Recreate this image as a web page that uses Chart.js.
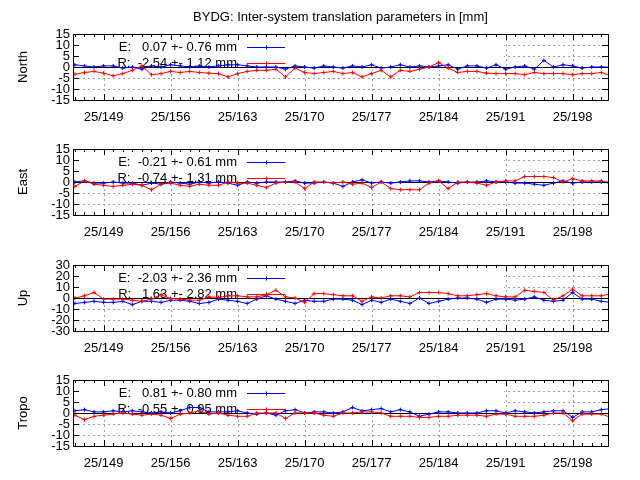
<!DOCTYPE html>
<html><head><meta charset="utf-8">
<script src="https://cdn.jsdelivr.net/npm/chart.js@4"></script>
<style>html,body{margin:0;padding:0;background:#fff}#w{position:relative;width:640px;height:480px}canvas{position:absolute;left:0;top:0}</style>
</head><body><div id="w"></div>
<script>
const days = [];
for (let d = 146; d <= 202; d++) days.push(d);
const tickDays = [149,156,163,170,177,184,191,198];
const tickLabels = ["25/149","25/156","25/163","25/170","25/177","25/184","25/191","25/198"];
const panelNames = ["North","East","Up","Tropo"];
const legendE = ["E:   0.07 +- 0.76 mm","E:  -0.21 +- 0.61 mm","E:  -2.03 +- 2.36 mm","E:   0.81 +- 0.80 mm"];
const legendR = ["R:  -2.54 +- 1.12 mm","R:  -0.74 +- 1.31 mm","R:   1.63 +- 2.82 mm","R:  -0.55 +- 0.95 mm"];
const yLimits = [15,15,30,15];
const yStep = [5,5,10,5];

const northE = [1,0.5,0,0.5,0.5,-0.5,0,-1,0.5,0,1,0.5,0,0.5,0,0.5,1,1,0.5,0,0,0,-1,0.5,0,-0.5,0.5,0,-0.5,0.5,0,1,-0.5,0,1,0,0.5,0,0.5,1,-1,0.5,0.5,-0.5,1,-1,0,0.5,-1,3,0,1,0.5,-0.5,0,0,0];
const northR = [-3.3,-2.5,-2,-2.8,-4,-3,-1.5,0.5,-3.5,-3,-2,-2.5,-2,-2.5,-2.8,-3,-4.5,-3,-2,-1.5,-1.5,-1,-4.5,-0.5,-2.5,-3,-2.5,-2,-3,-2.5,-4.5,-3,-1.5,-4.5,-1.5,-2,-1,0,2,-0.5,-2.5,-2,-2,-2.8,-3,-3,-3,-3.5,-2.5,-3,-3,-3,-3.5,-3,-3,-2.5,-4];
const eastE = [0,0.5,-0.5,-0.5,0,-0.5,-0.5,-1.5,-0.5,-1,0,-0.5,-1,0,-0.5,0,-0.5,-1.5,0,-0.5,0,0,0,0.5,-0.5,-0.5,0,-0.5,-2,0,1,-0.5,0,-0.5,0,0.5,0.5,0,0.5,0,-0.5,0,0,0.5,0,0,-0.5,-0.5,-1,-1.5,-0.5,0.5,-0.5,0,0,0,0];
const eastR = [-2,0.5,-1,-1.5,-2,-1.5,-1,-1.5,-3.5,-1,-0.5,-1.5,-2,-1,-1.5,-1.5,0,-0.5,-0.5,-1.5,-2.5,-0.5,0,0,-3,0,0,-0.5,0,-1,-0.5,-2.5,0,-3,-3.5,-3.5,-3.5,-0.5,0.5,-3,0,0,-0.5,-1.5,0,0.5,0.5,2.5,2.5,2.5,2,0,1.5,0.5,0.5,0.5,-1];
const upE = [-5,-4,-3,-4,-4,-3,-6,-3,-3,-4,-2,-2,-3,-5,-4,-1,-2,-3,-5,-1,2,-1,-3,-5,-2,-3,-3,-1,-1,-2,-6,-2,-4,-1,-3,-5,0,-5,-3,-1,0,0,-1,-4,-1,-1,-2,-1,1,-2,-3,-2,5,-1,-1,-3,-4];
const upR = [0,2,5,-1,-1,-1,-2,-3,-1,3,-0.5,-1,-2,-2,1,0.5,2,2,1,1,3,7,1,0,-4,4,4,3,2,2,-3,1,0,2,2,1,5,5,5,4,2,2,3,4,2,1,1,7,6,5,-2,2,8,2,2,2,4];
const tropoE = [1,1.5,0.5,0.5,1,0.5,1,0.5,0,0.5,0,1,2.5,2.5,0.5,0.5,0.5,1,0,-0.5,0,-1,1,1.5,0,0.5,0.5,0,0.5,2.5,1,1.5,2,0.5,1.5,0.5,-1.5,-0.5,0.5,0.5,0,0,0,1,1,0,1,0.5,0,0.5,1,1,-2,0.5,0.5,1.5,2];
const tropoR = [-1,-3,-1.5,-1,-0.5,0,-0.5,-1,-0.5,-1,-2.5,-0.5,0,1,-0.5,0,-1,-1.5,-1.5,0,0,0,-2.5,0,0,0,-1,-1.5,0,0,0.5,0.5,0,-1.5,-1.5,-1.5,-2,-2,-1.5,-1.5,-1,-1,-1,-1.5,-0.5,-0.5,-1.5,-1.5,-1.5,-1,0,0,-3.5,-0.5,-0.5,-0.5,-2];
const seriesE = [northE,eastE,upE,tropoE];
const seriesR = [northR,eastR,upR,tropoR];

const tops = [34,149,265,380];
const H = 65, L = 73, R = 607;
const FONT = '13px "Liberation Sans", Arial, sans-serif';

function mkPlugin(i){
  return {
    id:'gp'+i,
    beforeDatasetsDraw(chart){
      const c = chart.ctx, a = chart.chartArea, xs = chart.scales.x, ys = chart.scales.y;
      c.save();
      c.strokeStyle = '#a0a0a0'; c.lineWidth = 1; c.setLineDash([2,3]);
      for (const d of tickDays){ const x = Math.round(xs.getPixelForValue(d))+0.5; c.beginPath(); c.moveTo(x,a.top); c.lineTo(x,a.bottom); c.stroke(); }
      for (let v=-yLimits[i]+yStep[i]; v<yLimits[i]; v+=yStep[i]){ if(v===0) continue; const y = Math.round(ys.getPixelForValue(v))+0.5; c.beginPath(); c.moveTo(a.left,y); c.lineTo(a.right,y); c.stroke(); }
      c.setLineDash([]);
      const bx = Math.round(xs.getPixelForValue(191)) - 2;
      c.fillStyle = '#fff'; c.fillRect(a.left+1, a.top+1, bx - a.left - 1, 35);
      const y0 = Math.round(ys.getPixelForValue(0))+0.5;
      c.strokeStyle = '#000'; c.beginPath(); c.moveTo(a.left,y0); c.lineTo(a.right,y0); c.stroke();
      c.font = FONT; c.fillStyle = '#000'; c.textAlign = 'right'; c.textBaseline = 'middle';
      const ly = [a.top+13, a.top+29], cols = ['#0000ff','#ff0000'], txt = [legendE[i], legendR[i]];
      for (let k=0;k<2;k++){
        c.fillStyle='#000'; c.fillText(txt[k], 237, ly[k]);
        c.strokeStyle = cols[k]; c.beginPath(); c.moveTo(247,ly[k]+0.5); c.lineTo(285,ly[k]+0.5); c.stroke();
        c.beginPath(); c.moveTo(264,ly[k]+0.5); c.lineTo(268,ly[k]+0.5); c.moveTo(266.5,ly[k]-1.5); c.lineTo(266.5,ly[k]+2.5); c.stroke();
      }
      c.restore();
    },
    afterDraw(chart){
      const c = chart.ctx, a = chart.chartArea, xs = chart.scales.x, ys = chart.scales.y;
      c.save();
      c.strokeStyle = '#000'; c.lineWidth = 1;
      c.strokeRect(a.left+0.5, a.top+0.5, a.right-a.left, a.bottom-a.top);
      c.beginPath();
      for (let d=146; d<=201; d++){
        const x = Math.round(xs.getPixelForValue(d))+0.5;
        const len = tickDays.includes(d) ? 6 : 3;
        c.moveTo(x,a.bottom); c.lineTo(x,a.bottom-len);
        c.moveTo(x,a.top); c.lineTo(x,a.top+len);
      }
      for (let v=-yLimits[i]; v<=yLimits[i]; v+=yStep[i]){
        const y = Math.round(ys.getPixelForValue(v))+0.5;
        c.moveTo(a.left,y); c.lineTo(a.left+6,y);
        c.moveTo(a.right,y); c.lineTo(a.right-6,y);
      }
      c.stroke();
      c.font = FONT; c.fillStyle = '#000';
      c.textAlign = 'right'; c.textBaseline = 'middle';
      for (let v=-yLimits[i]; v<=yLimits[i]; v+=yStep[i]) c.fillText(String(v), a.left-3, ys.getPixelForValue(v));
      c.textAlign = 'center'; c.textBaseline = 'middle';
      tickDays.forEach((d,k)=> c.fillText(tickLabels[k], xs.getPixelForValue(d), a.bottom+17));
      c.save(); c.translate(23,(a.top+a.bottom)/2); c.rotate(-Math.PI/2); c.fillText(panelNames[i],0,0); c.restore();
      if (i===0){ c.fillText("BYDG: Inter-system translation parameters in [mm]", (a.left+a.right)/2, 17); }
      c.restore();
    }
  };
}

const wrap = document.getElementById('w');
for (let i=0;i<4;i++){
  const cv = document.createElement('canvas'); cv.width=640; cv.height=480;
  cv.style.width='640px'; cv.style.height='480px';
  wrap.appendChild(cv);
  const mk = (arr,col,ord)=>({data: days.map((d,k)=>({x:d,y:arr[k]})), borderColor:col, backgroundColor:col, borderWidth:1,
    pointStyle:'cross', pointRadius:2, pointBorderWidth:1, tension:0, order:ord, clip:0});
  new Chart(cv, {
    type:'line',
    data:{datasets:[mk(seriesR[i],'#ff0000',0), mk(seriesE[i],'#0000ff',1)]},
    options:{
      responsive:false, animation:false, devicePixelRatio:1,
      layout:{padding:{left:L, right:640-R-1, top:tops[i], bottom:480-tops[i]-H-1}},
      plugins:{legend:{display:false}, tooltip:{enabled:false}},
      scales:{
        x:{type:'linear', min:145.8, max:201.7, display:false},
        y:{type:'linear', min:-yLimits[i], max:yLimits[i], display:false}
      }
    },
    plugins:[mkPlugin(i)]
  });
}
</script></body></html>
